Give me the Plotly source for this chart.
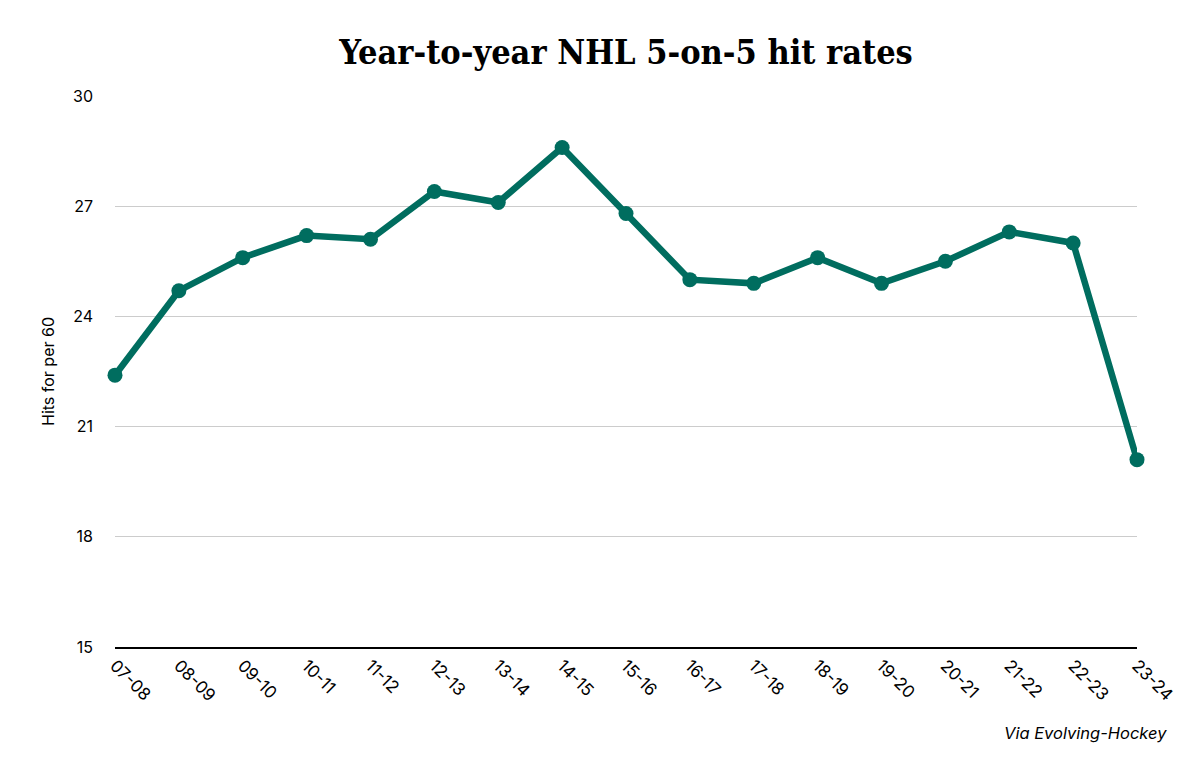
import plotly.graph_objects as go

seasons = ["07-08", "08-09", "09-10", "10-11", "11-12", "12-13", "13-14", "14-15",
           "15-16", "16-17", "17-18", "18-19", "19-20", "20-21", "21-22", "22-23", "23-24"]
hits_per_60 = [22.4, 24.7, 25.6, 26.2, 26.1, 27.4, 27.1, 28.6,
               26.8, 25.0, 24.9, 25.6, 24.9, 25.5, 26.3, 26.0, 20.1]
y_ticks = [15, 18, 21, 24, 27, 30]

color = "#006d5f"

fig = go.Figure(go.Scatter(
    x=seasons, y=hits_per_60, mode="lines+markers",
    line=dict(color=color, width=6.5),
    marker=dict(color=color, size=15),
    hoverinfo="x+y", cliponaxis=False,
))

fig.update_layout(
    width=1200, height=776,
    paper_bgcolor="white", plot_bgcolor="white",
    margin=dict(l=107, r=71, t=88, b=137),
    showlegend=False,
    title=dict(text="<b>Year-to-year NHL 5-on-5 hit rates</b>",
               x=0.5, xref="paper", xanchor="center",
               y=0.943, yref="container", yanchor="middle",
               font=dict(family="DejaVu Serif Condensed, DejaVu Serif", size=34, color="black")),
    font=dict(family="Inter, Roboto, sans-serif", color="black"),
    annotations=[dict(text="<i>Via Evolving-Hockey</i>", xref="paper", yref="paper",
                      x=1.031, y=-0.156, xanchor="right", yanchor="middle",
                      showarrow=False, font=dict(size=16.5, color="black"))],
)
fig.update_xaxes(
    type="category", range=[0, len(seasons) - 1],
    showgrid=False, showline=True, linecolor="black", linewidth=2,
    tickangle=45, tickfont=dict(size=17), ticks="", ticklen=0,
)
fig.update_yaxes(
    range=[15, 30], tickvals=y_ticks, showgrid=True, gridcolor="#cccccc", gridwidth=1,
    zeroline=False, showline=False, ticks="", tickfont=dict(size=16),
    ticklabelstandoff=21,
    title=dict(text="Hits for per 60", font=dict(size=16), standoff=14),
)

fig.write_html("out.html")
